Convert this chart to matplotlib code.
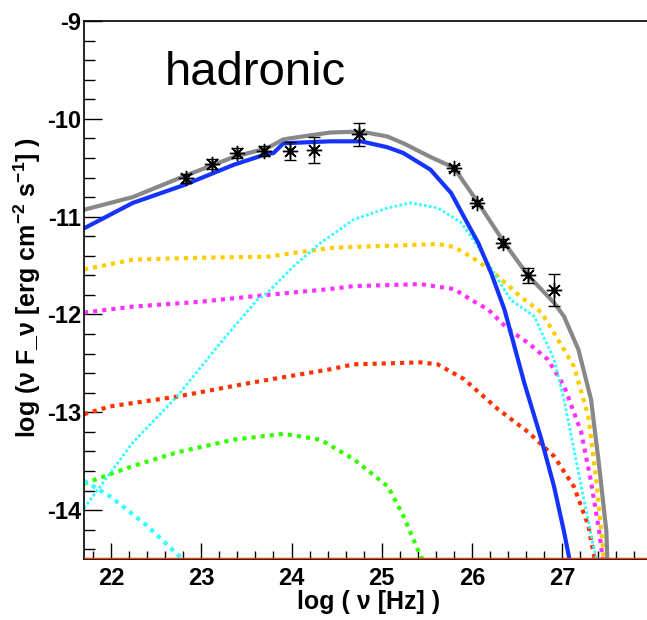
import matplotlib
matplotlib.use("Agg")
import matplotlib.pyplot as plt
from matplotlib.ticker import MultipleLocator

plt.rcParams["font.family"] = ["Liberation Sans", "DejaVu Sans"]
plt.rcParams["mathtext.fontset"] = "custom"
plt.rcParams["mathtext.rm"] = "Liberation Sans:bold"
plt.rcParams["mathtext.it"] = "Liberation Sans:bold"
plt.rcParams["mathtext.bf"] = "Liberation Sans:bold"
plt.rcParams["mathtext.default"] = "rm"

# measured SED points: log(nu), log(nu F_nu), error
obs_x = [22.83, 23.12, 23.40, 23.69, 23.98, 24.25, 24.75, 25.80, 26.06, 26.34, 26.62, 26.91]
obs_y = [-10.61, -10.46, -10.35, -10.33, -10.33, -10.32, -10.16, -10.50, -10.86, -11.27, -11.60, -11.75]
obs_err = [0.05, 0.05, 0.05, 0.05, 0.09, 0.13, 0.12, 0.03, 0.03, 0.04, 0.08, 0.16]

# model components
total_x = [21.70, 22.24, 22.80, 23.36, 23.73, 23.91, 24.20, 24.43, 24.77, 25.06, 25.24, 25.54,
           25.80, 26.07, 26.36, 26.62, 26.91, 27.02, 27.18, 27.32, 27.41, 27.49, 27.50]
total_y = [-10.93, -10.80, -10.59, -10.39, -10.30, -10.21, -10.17, -10.14, -10.13, -10.18, -10.25,
           -10.39, -10.50, -10.86, -11.27, -11.60, -11.88, -12.02, -12.36, -12.87, -13.55, -14.22,
           -14.50]

synch_x = [21.70, 22.24, 22.80, 23.36, 23.69, 23.80, 23.91, 24.43, 24.77, 25.06, 25.24, 25.54,
           25.77, 25.91, 26.07, 26.21, 26.36, 26.58, 26.77, 26.91, 27.02, 27.08]
synch_y = [-11.12, -10.86, -10.68, -10.47, -10.37, -10.35, -10.25, -10.23, -10.23, -10.29, -10.35,
           -10.52, -10.76, -11.00, -11.27, -11.57, -11.95, -12.70, -13.28, -13.76, -14.22, -14.50]

pion_x = [21.70, 21.88, 22.24, 22.73, 23.24, 23.62, 23.73, 24.02, 24.32, 24.69, 25.07, 25.32,
          25.62, 25.88, 26.07, 26.24, 26.43, 26.69, 26.91, 27.02, 27.13, 27.24, 27.36, 27.38]
pion_y = [-13.98, -13.76, -13.31, -12.84, -12.26, -11.85, -11.78, -11.51, -11.27, -11.03, -10.91,
          -10.86, -10.91, -11.06, -11.31, -11.57, -11.85, -12.02, -12.46, -12.87, -13.38, -13.89,
          -14.43, -14.50]

low_cyan_x = [21.70, 21.99, 22.40, 22.79]
low_cyan_y = [-13.70, -13.86, -14.16, -14.50]

gold_x = [21.70, 22.24, 22.99, 23.73, 24.43, 24.69, 25.62, 25.80, 25.99, 26.24, 26.54, 26.77,
          26.91, 27.13, 27.29, 27.38, 27.45, 27.46]
gold_y = [-11.54, -11.44, -11.42, -11.41, -11.32, -11.31, -11.28, -11.31, -11.41, -11.57, -11.82,
          -11.98, -12.19, -12.53, -13.04, -13.71, -14.37, -14.50]

magenta_x = [21.70, 22.24, 22.99, 23.73, 24.43, 24.69, 25.43, 25.80, 25.99, 26.18, 26.40, 26.62,
             26.84, 27.02, 27.21, 27.32, 27.41, 27.45]
magenta_y = [-11.98, -11.92, -11.87, -11.80, -11.74, -11.71, -11.69, -11.74, -11.85, -11.95, -12.15,
             -12.29, -12.46, -12.73, -13.20, -13.71, -14.22, -14.50]

red_x = [21.70, 21.99, 22.73, 23.54, 24.43, 24.69, 25.43, 25.62, 25.91, 26.29, 26.62, 26.91,
         27.13, 27.29, 27.36]
red_y = [-13.02, -12.94, -12.84, -12.70, -12.56, -12.51, -12.49, -12.51, -12.66, -12.97, -13.20,
         -13.45, -13.76, -14.16, -14.50]

green_x = [21.70, 22.24, 22.73, 23.36, 23.91, 24.32, 24.69, 25.07, 25.24, 25.43, 25.45]
green_y = [-13.73, -13.55, -13.41, -13.28, -13.22, -13.28, -13.48, -13.76, -14.06, -14.47, -14.50]

x_min, x_max = 21.70, 27.94
y_min, y_max = -14.5, -9.0

fig = plt.figure(figsize=(6.47, 6.20), dpi=100)
ax = fig.add_axes([84 / 647, 61 / 620, 563 / 647, 538 / 620])

dot = (0, (1, 1.2))
ax.plot(red_x, red_y, color="#ff3300", lw=3, ls=dot)
ax.plot(green_x, green_y, color="#33ff00", lw=3, ls=dot)
ax.plot(low_cyan_x, low_cyan_y, color="#33ffff", lw=3, ls=dot)
ax.plot(magenta_x, magenta_y, color="#ff33ff", lw=3, ls=dot)
ax.plot(gold_x, gold_y, color="#ffcc00", lw=3, ls=dot)
ax.plot(pion_x, pion_y, color="#33ffff", lw=2, ls=(0, (1, 0.8)))
ax.plot(synch_x, synch_y, color="#1433ff", lw=3, solid_joinstyle="round")
ax.plot(total_x, total_y, color="#888888", lw=3, solid_joinstyle="round")
ax.axhline(y_min, color="#ff3300", lw=2.5, zorder=3)

ax.errorbar(obs_x, obs_y, yerr=obs_err, fmt="none", ecolor="black", elinewidth=1,
            capsize=4, capthick=1, zorder=5)
ax.plot(obs_x, obs_y, ls="none", marker=(8, 2, 0), ms=11, mec="black", mew=1, zorder=6)
ax.plot(obs_x, obs_y, ls="none", marker="o", ms=3.5, color="black", zorder=6)

ax.set_xlim(x_min, x_max)
ax.set_ylim(y_min, y_max)
ax.spines["right"].set_visible(False)
for s in ("left", "top", "bottom"):
    ax.spines[s].set_linewidth(1.2)

ax.xaxis.set_major_locator(MultipleLocator(1))
ax.xaxis.set_minor_locator(MultipleLocator(0.2))
ax.yaxis.set_major_locator(MultipleLocator(1))
ax.yaxis.set_minor_locator(MultipleLocator(0.2))
ax.tick_params(axis="x", which="major", direction="in", length=11.5, width=1, pad=6,
               labelsize=17, top=False)
ax.tick_params(axis="x", which="minor", direction="in", length=6, width=1, top=False)
ax.tick_params(axis="y", which="major", direction="in", length=13, width=1, pad=2,
               labelsize=17, right=False)
ax.tick_params(axis="y", which="minor", direction="in", length=8, width=1, right=False)
ax.set_xticks(ax.get_xticks(), [f"{int(v)}" for v in ax.get_xticks()])
ax.set_yticks(ax.get_yticks(), [f"{int(v)}" for v in ax.get_yticks()])
ax.set_xlim(x_min, x_max)
ax.set_ylim(y_min, y_max)
for lab in ax.get_xticklabels() + ax.get_yticklabels():
    lab.set_fontweight("bold")

fig.text(440 / 647, 1 - 602 / 620, "log ( ν [Hz] )", ha="right", va="center",
         fontsize=18, fontweight="bold")
fig.text(27 / 647, 1 - 288 / 620, "log (ν F_ν [erg cm$^{-2}$ s$^{-1}$] )", rotation=90,
         ha="center", va="center", fontsize=18, fontweight="bold")
fig.text(165 / 647, 1 - 85 / 620, "hadronic", ha="left", va="baseline", fontsize=34)

fig.savefig("out.png", dpi=100)
